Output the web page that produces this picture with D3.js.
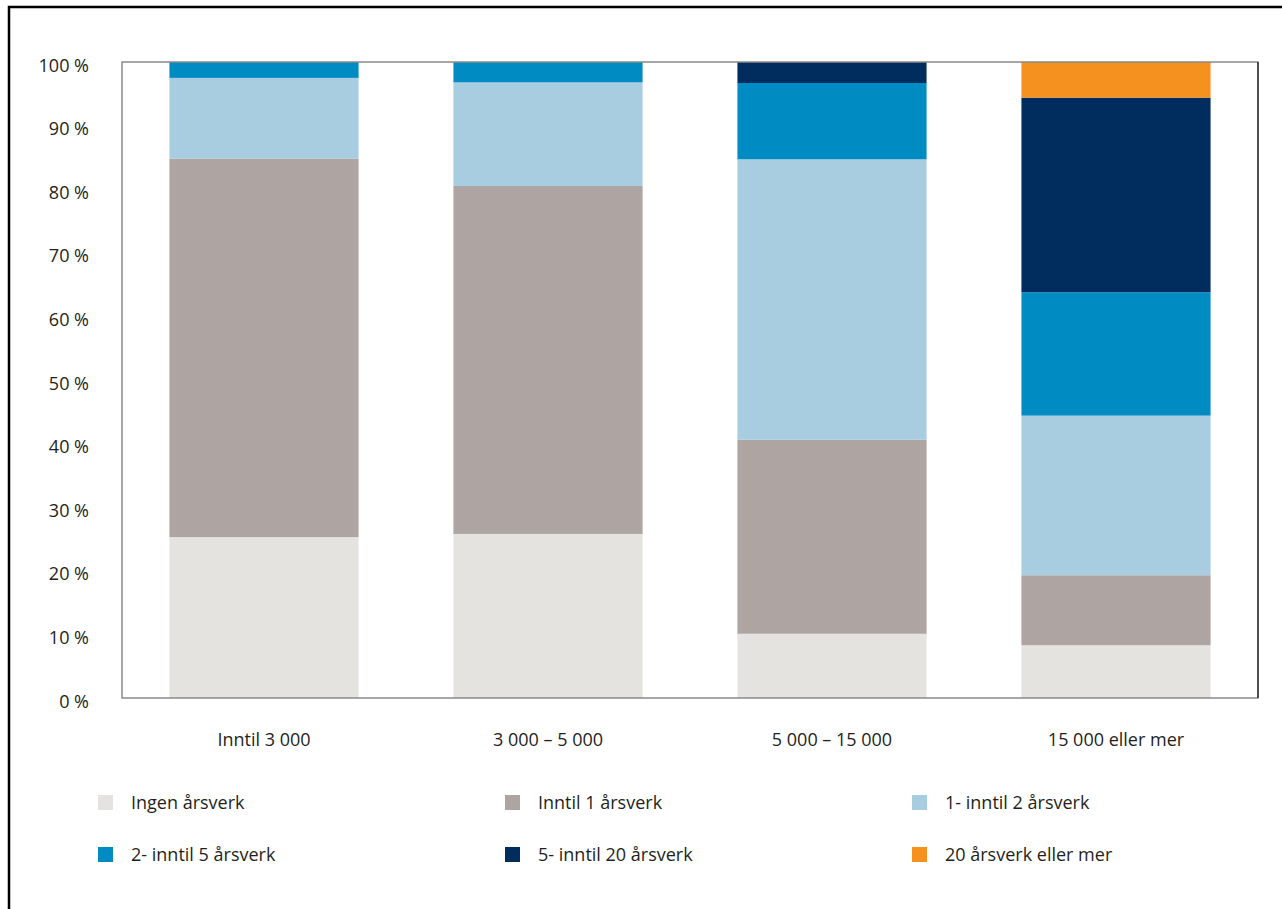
<!DOCTYPE html>
<html>
<head>
<meta charset="utf-8">
<script src="https://cdn.jsdelivr.net/npm/d3@7"></script>
<style>
  body { margin: 0; background: #fff; }
  svg { display: block; font-family: "Open Sans", sans-serif; }
</style>
</head>
<body>
<svg id="chart"></svg>
<script>
var width = 1282, height = 909;

// data
var categories = ["Inntil 3 000", "3 000 – 5 000", "5 000 – 15 000", "15 000 eller mer"];
var seriesNames = ["Ingen årsverk", "Inntil 1 årsverk", "1- inntil 2 årsverk",
                   "2- inntil 5 årsverk", "5- inntil 20 årsverk", "20 årsverk eller mer"];
var ingen      = [25.3, 25.8, 10.1, 8.3];
var inntil1    = [59.5, 54.7, 30.5, 11.0];
var inntil2    = [12.7, 16.3, 44.1, 25.1];
var inntil5    = [2.5, 3.2, 12.0, 19.4];
var inntil20   = [0, 0, 3.3, 30.6];
var over20     = [0, 0, 0, 5.6];
var yTicks = [0, 10, 20, 30, 40, 50, 60, 70, 80, 90, 100];
var colors = ["#e4e3df", "#aea5a2", "#a8cde0", "#008cc2", "#002c5e", "#f5911e"];

var seriesValues = [ingen, inntil1, inntil2, inntil5, inntil20, over20];
var rows = categories.map((c, i) => {
  var row = { category: c };
  seriesNames.forEach((s, j) => row[s] = seriesValues[j][i]);
  return row;
});

var margin = { top: 62, right: 24, bottom: 211, left: 122 };
var fontSize = "18px";

var svg = d3.select("#chart")
    .attr("width", width)
    .attr("height", height);

// outer frame (top and left edges visible)
svg.append("path")
    .attr("d", `M9,${height} V7 H${width}`)
    .attr("fill", "none")
    .attr("stroke", "#000")
    .attr("stroke-width", 2.5);

var x = d3.scaleBand()
    .domain(categories)
    .range([margin.left, width - margin.right])
    .paddingInner(0.334)
    .paddingOuter(0.167);

var y = d3.scaleLinear()
    .domain([0, 100])
    .range([height - margin.bottom, margin.top]);

var stacked = d3.stack().keys(seriesNames)(rows);

var color = d3.scaleOrdinal().domain(seriesNames).range(colors);

// bars
svg.append("g")
  .selectAll("g")
  .data(stacked)
  .join("g")
    .attr("fill", d => color(d.key))
  .selectAll("rect")
  .data(d => d)
  .join("rect")
    .attr("x", d => x(d.data.category))
    .attr("width", x.bandwidth())
    .attr("y", d => y(d[1]))
    .attr("height", d => y(d[0]) - y(d[1]));

// plot border
svg.append("rect")
    .attr("x", margin.left)
    .attr("y", margin.top)
    .attr("width", width - margin.left - margin.right)
    .attr("height", height - margin.top - margin.bottom)
    .attr("fill", "none")
    .attr("stroke", "#8a8a8a")
    .attr("stroke-width", 1.5);
svg.append("line")
    .attr("x1", width - margin.right).attr("x2", width - margin.right)
    .attr("y1", margin.top).attr("y2", height - margin.bottom)
    .attr("stroke", "#333")
    .attr("stroke-width", 1.5);

// y axis labels
var yAxis = svg.append("g")
    .attr("transform", `translate(${margin.left},0)`)
    .call(d3.axisLeft(y).tickValues(yTicks).tickSize(0).tickPadding(33)
      .tickFormat(d => d + " %"));
yAxis.select(".domain").remove();
yAxis.selectAll("text")
    .attr("dy", "0.5em")
    .style("font-size", fontSize)
    .style("fill", "#231f20")
    .style("font-family", "'Open Sans', sans-serif");

// x axis labels
var xAxis = svg.append("g")
    .attr("transform", `translate(0,${height - margin.bottom})`)
    .call(d3.axisBottom(x).tickSize(0).tickPadding(35));
xAxis.select(".domain").remove();
xAxis.selectAll("text")
    .style("font-size", fontSize)
    .style("fill", "#231f20")
    .style("font-family", "'Open Sans', sans-serif");

// legend
var legend = svg.append("g")
  .selectAll("g")
  .data(seriesNames)
  .join("g")
    .attr("transform", (d, i) => `translate(${98 + (i % 3) * 407},${795 + Math.floor(i / 3) * 52})`);

legend.append("rect")
    .attr("width", 15)
    .attr("height", 15)
    .attr("fill", d => color(d));

legend.append("text")
    .attr("x", 33)
    .attr("y", 8)
    .attr("dy", "0.35em")
    .style("font-size", fontSize)
    .style("fill", "#231f20")
    .text(d => d);
</script>
</body>
</html>
